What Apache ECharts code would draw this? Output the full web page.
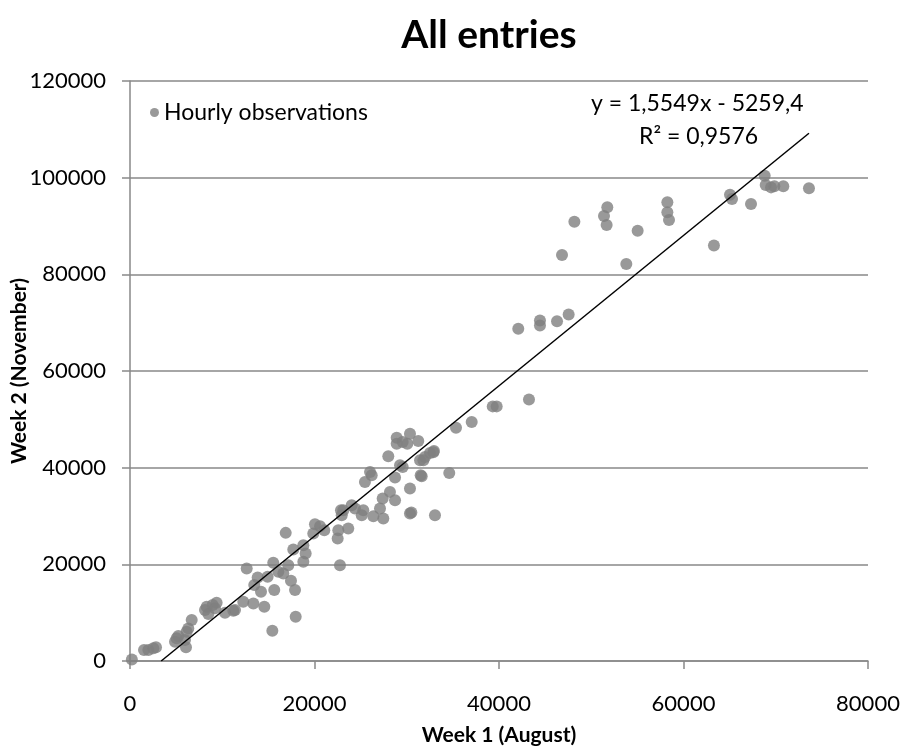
<!DOCTYPE html>
<html>
<head>
<meta charset="utf-8">
<script src="https://cdn.jsdelivr.net/npm/echarts@6/dist/echarts.min.js"></script>
<style>
  html, body { margin: 0; padding: 0; background: #fff; }
  #main { width: 903px; height: 747px; }
</style>
</head>
<body>
<div id="main"></div>
<script>
var week1 = [
  200, 1520, 1990, 2530, 2820, 4880, 5060, 5240, 6070, 5960, 6140, 6320, 6690,
  8130, 8310, 8490, 9210, 9390, 8960, 10300, 11200, 11380, 12280, 13370, 14560,
  12650, 13470, 13840, 14200, 14920, 15640, 15530, 16080, 16620, 17160, 17450,
  17890, 17960, 15430, 16880, 17700, 18790, 19040, 18790, 20050, 20600, 21060,
  19870, 22580, 22510, 22760, 22870, 22950, 23660, 23120, 24030, 24390, 25290,
  25120, 26380, 27460, 27100, 27390, 28180, 28730, 30350, 33060, 30350, 25470,
  26020, 26200, 28730, 29270, 29560, 28000, 28910, 28910, 30350, 29560, 30060,
  31250, 31440, 31980, 32520, 32950, 31620, 34610, 35340, 37040, 39320, 39750,
  31510, 31800, 32880, 43250, 30500, 42090, 44440, 44440, 46290, 47550, 46830,
  48170, 51380, 51740, 51670, 53800, 55030, 58250, 58250, 58430, 63300, 65040,
  65260, 67320, 68800, 68910, 69490, 69850, 70820, 73600
];
var week2 = [
  300, 2270, 2270, 2620, 2830, 3990, 4690, 5170, 2830, 4340, 6060, 6750, 8470,
  10540, 11220, 9710, 10890, 12040, 11570, 9980, 10390, 10540, 12250, 11920, 11220,
  19150, 15700, 17290, 14320, 17420, 14670, 20310, 18450, 18120, 19830, 16590,
  14670, 9150, 6260, 26510, 23070, 23970, 22250, 20520, 28300, 27890, 27070,
  26380, 27070, 25350, 19830, 31200, 30160, 27410, 31200, 32230, 31550, 31200,
  30160, 29960, 29480, 31550, 33620, 34990, 33260, 30510, 30160, 35680, 37040,
  39110, 38430, 37950, 40490, 40140, 42350, 44970, 46210, 47040, 45310, 44970,
  45510, 41530, 42210, 43040, 43450, 38220, 38900, 48280, 49440, 52680, 52680,
  38430, 41530, 43180, 54100, 30700, 68740, 70450, 69420, 70310, 71690, 84020,
  90900, 92080, 93870, 90220, 82160, 89040, 94890, 92830, 91250, 85950, 96480,
  95590, 94560, 100400, 98480, 97990, 98200, 98200, 97790
];
var slope = 1.5549;
var intercept = -5259.4;

var points = week1.map(function (x, i) { return [x, week2[i]]; });
var xMax = Math.max.apply(null, week1);
var trend = [[-intercept / slope, 0], [xMax, slope * xMax + intercept]];

var myChart = echarts.init(document.getElementById('main'));
var font = 'Lato, "Open Sans", sans-serif';
var plain = function (v) { return String(v); };

var option = {
  animation: false,
  title: {
    text: 'All entries',
    left: 484,
    top: 11,
    textAlign: 'center',
    textStyle: { fontFamily: font, fontSize: 39, fontWeight: 'bold', color: '#000' }
  },
  legend: {
    left: 145,
    top: 96,
    icon: 'circle',
    itemWidth: 9,
    itemHeight: 9,
    itemGap: 9,
    data: ['Hourly observations'],
    textStyle: { fontFamily: font, fontSize: 23, color: '#000' }
  },
  grid: { left: 130, right: 35, top: 81, bottom: 86, containLabel: false, outerBoundsMode: 'none' },
  xAxis: {
    type: 'value',
    min: 0,
    max: 80000,
    interval: 20000,
    name: 'Week 1 (August)',
    nameLocation: 'middle',
    nameGap: 64,
    nameMoveOverlap: false,
    nameTextStyle: { fontFamily: font, fontSize: 21, fontWeight: 'bold', color: '#000' },
    axisLine: { show: true, lineStyle: { color: '#898989', width: 1.5 } },
    axisTick: { show: true, inside: false, length: 8, lineStyle: { color: '#898989', width: 1.5 } },
    axisLabel: { fontFamily: font, fontSize: 22, color: '#000', margin: 32, formatter: plain },
    splitLine: { show: false }
  },
  yAxis: {
    type: 'value',
    min: 0,
    max: 120000,
    interval: 20000,
    name: 'Week 2 (November)',
    nameLocation: 'middle',
    nameGap: 100,
    nameMoveOverlap: false,
    nameTextStyle: { fontFamily: font, fontSize: 21, fontWeight: 'bold', color: '#000' },
    axisLine: { show: true, lineStyle: { color: '#898989', width: 1.5 } },
    axisTick: { show: true, inside: false, length: 8, lineStyle: { color: '#898989', width: 1.5 } },
    axisLabel: { fontFamily: font, fontSize: 22, color: '#000', margin: 24, formatter: plain },
    splitLine: { show: true, lineStyle: { color: '#898989', width: 1.5 } }
  },
  series: [
    {
      name: 'Hourly observations',
      type: 'scatter',
      symbol: 'circle',
      symbolSize: 12,
      itemStyle: { color: '#808080' },
      data: points
    },
    {
      name: 'Linear trend',
      type: 'line',
      symbol: 'none',
      silent: true,
      lineStyle: { color: '#000', width: 1.5 },
      data: trend
    }
  ],
  graphic: [
    {
      type: 'text',
      left: 591,
      top: 92,
      style: { text: 'y = 1,5549x - 5259,4', font: '23px ' + font, fill: '#000' }
    },
    {
      type: 'text',
      left: 639,
      top: 125,
      style: { text: 'R² = 0,9576', font: '23px ' + font, fill: '#000' }
    }
  ]
};

myChart.setOption(option);
</script>
</body>
</html>
